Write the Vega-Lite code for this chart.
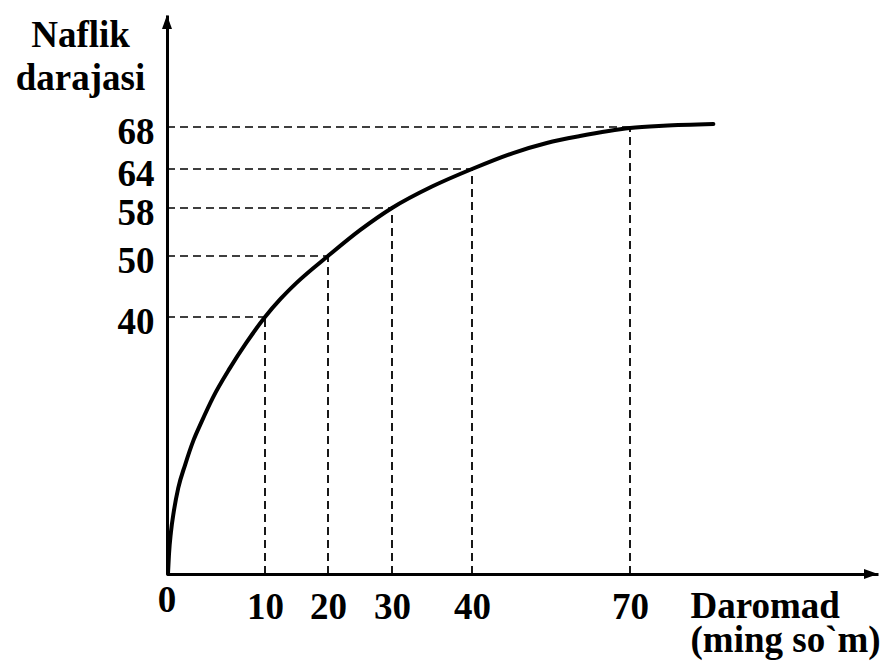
{
  "$schema": "https://vega.github.io/schema/vega-lite/v6.json",
  "width": 711,
  "height": 559,
  "autosize": "none",
  "padding": {"left": 167, "top": 15, "right": 3, "bottom": 90},
  "background": "white",
  "config": {"view": {"stroke": null}},
  "datasets": {
    "curve": [
      {"x": 0.1, "y": 0}, {"x": 0.2, "y": 3}, {"x": 0.4, "y": 6.5}, {"x": 0.7, "y": 9.8},
      {"x": 1.15, "y": 13.4}, {"x": 1.85, "y": 17}, {"x": 2.7, "y": 20.8}, {"x": 3.5, "y": 23.6},
      {"x": 4.7, "y": 27.5}, {"x": 6.4, "y": 32}, {"x": 8.1, "y": 36},
      {"x": 10, "y": 40}, {"x": 12.5, "y": 43}, {"x": 15, "y": 45.6}, {"x": 20, "y": 50}, {"x": 25, "y": 54.3},
      {"x": 30, "y": 58}, {"x": 35, "y": 61.3}, {"x": 40, "y": 64}, {"x": 47.8, "y": 65.52},
      {"x": 54.2, "y": 66.48}, {"x": 60.5, "y": 67.14}, {"x": 70, "y": 67.9}, {"x": 76.3, "y": 68.12},
      {"x": 85.8, "y": 68.29}
    ],
    "marks": [
      {"x": 10, "y": 40, "base": 0}, {"x": 20, "y": 50, "base": 0}, {"x": 30, "y": 58, "base": 0},
      {"x": 40, "y": 64, "base": 0}, {"x": 70, "y": 68, "base": 0}
    ]
  },
  "layer": [
    {
      "data": {"name": "curve"},
      "mark": {"type": "line", "interpolate": "monotone", "strokeWidth": 4, "color": "black", "strokeCap": "round"},
      "encoding": {
        "x": {
          "field": "x", "type": "quantitative",
          "scale": {"domain": [0, 10, 20, 30, 40, 70, 117], "range": [0, 98, 161, 225, 305, 463, 711], "nice": false, "zero": false},
          "axis": {
            "values": [10, 20, 30, 40, 70],
            "grid": false, "ticks": false, "tickSize": 0,
            "domainWidth": 3, "domainColor": "black",
            "labelFont": "Liberation Serif", "labelFontWeight": "bold", "labelFontSize": 37, "labelColor": "black",
            "labelBaseline": "alphabetic", "labelPadding": 44, "labelFlush": false, "labelOverlap": false,
            "title": ["Daromad", "(ming so`m)"],
            "titleFont": "Liberation Serif", "titleFontWeight": "bold", "titleFontSize": 37, "titleColor": "black",
            "titleAlign": "left", "titleBaseline": "alphabetic",
            "titleX": 523, "titleY": 43, "titleLineHeight": 34
          }
        },
        "y": {
          "field": "y", "type": "quantitative",
          "scale": {"domain": [0, 40, 50, 58, 64, 68, 78.7], "range": [559, 302, 241, 193, 154, 112, 0], "nice": false, "zero": false},
          "axis": {
            "values": [40, 50, 58, 64, 68],
            "grid": false, "ticks": false, "tickSize": 0,
            "domainWidth": 3, "domainColor": "black",
            "labelFont": "Liberation Serif", "labelFontWeight": "bold", "labelFontSize": 37, "labelColor": "black",
            "labelPadding": 13, "labelOffset": 5, "labelFlush": false, "labelOverlap": false,
            "title": ["Naflik", "darajasi"],
            "titleFont": "Liberation Serif", "titleFontWeight": "bold", "titleFontSize": 37, "titleColor": "black",
            "titleAngle": 0, "titleAlign": "center", "titleBaseline": "alphabetic",
            "titleX": -87, "titleY": 31, "titleLineHeight": 43
          }
        }
      }
    },
    {
      "data": {"name": "marks"},
      "mark": {"type": "rule", "strokeDash": [8, 5], "strokeWidth": 1.5, "color": "black"},
      "encoding": {
        "x": {"field": "base", "type": "quantitative"},
        "x2": {"field": "x"},
        "y": {"field": "y", "type": "quantitative"}
      }
    },
    {
      "data": {"name": "marks"},
      "mark": {"type": "rule", "strokeDash": [8, 5], "strokeWidth": 1.8, "color": "black"},
      "encoding": {
        "x": {"field": "x", "type": "quantitative"},
        "y": {"field": "base", "type": "quantitative"},
        "y2": {"field": "y"}
      }
    },
    {
      "data": {"values": [{"x": 0, "y": 78.7}]},
      "mark": {"type": "point", "shape": "M0,0L0.5,1.4L-0.5,1.4Z", "filled": true, "size": 400, "color": "black", "opacity": 1},
      "encoding": {
        "x": {"field": "x", "type": "quantitative"},
        "y": {"field": "y", "type": "quantitative"}
      }
    },
    {
      "data": {"values": [{"x": 117, "y": 0}]},
      "mark": {"type": "point", "shape": "M0,0L-1.4,-0.5L-1.4,0.5Z", "filled": true, "size": 400, "color": "black", "opacity": 1},
      "encoding": {
        "x": {"field": "x", "type": "quantitative"},
        "y": {"field": "y", "type": "quantitative"}
      }
    },
    {
      "data": {"values": [{"x": 0, "y": 0, "label": "0"}]},
      "mark": {"type": "text", "font": "Liberation Serif", "fontWeight": "bold", "fontSize": 37, "color": "black", "align": "center", "baseline": "alphabetic", "dy": 38},
      "encoding": {
        "x": {"field": "x", "type": "quantitative"},
        "y": {"field": "y", "type": "quantitative"},
        "text": {"field": "label"}
      }
    }
  ]
}
